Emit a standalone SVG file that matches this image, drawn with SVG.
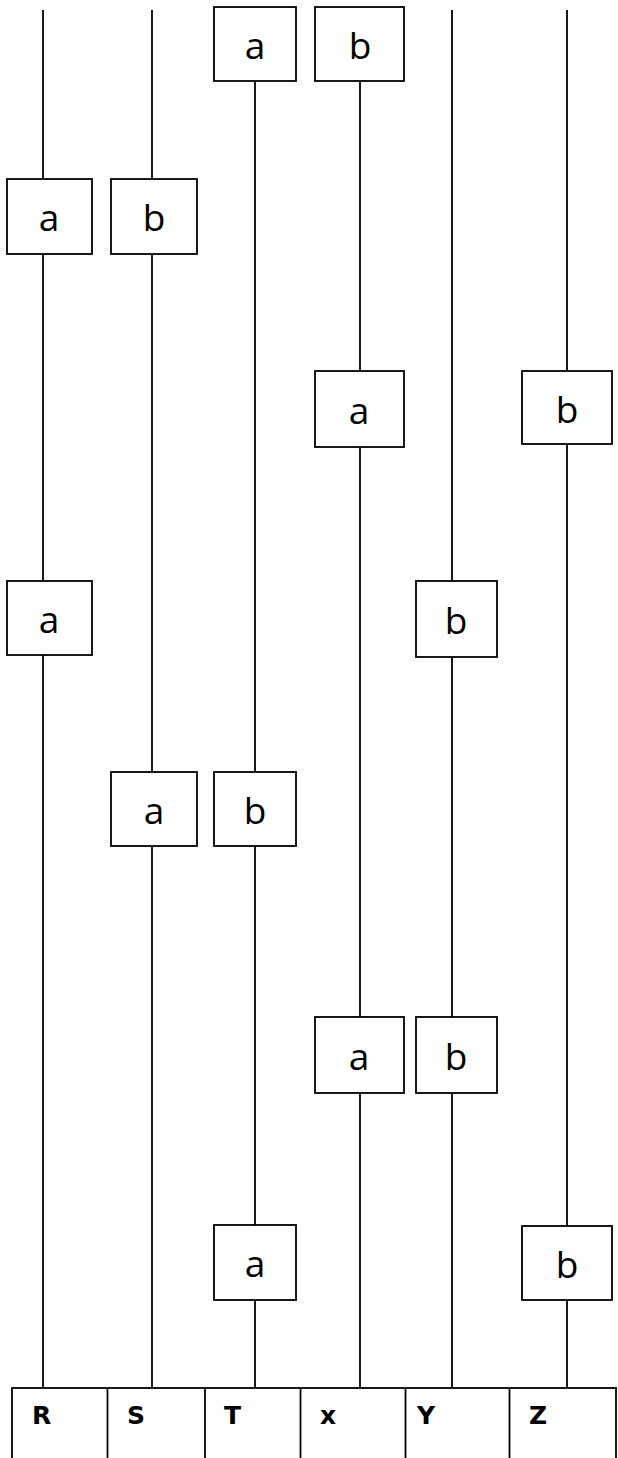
<svg xmlns="http://www.w3.org/2000/svg" width="618" height="1458" viewBox="0 0 618 1458">
<style>
.ln{stroke:#000;stroke-width:1.8;fill:none}
.bx{fill:#fff;stroke:#000;stroke-width:1.8}
.t{font-family:"Open Sans","Noto Sans",sans-serif;font-size:37px;text-anchor:middle;dominant-baseline:central;fill:#000}
.h{font-family:"DejaVu Sans",Verdana,sans-serif;font-size:25px;font-weight:bold;fill:#000}
</style>
<g id="connectors">
<line class="ln" x1="43" y1="10" x2="43" y2="1388"/>
<line class="ln" x1="152" y1="10" x2="152" y2="1388"/>
<line class="ln" x1="255" y1="81" x2="255" y2="1388"/>
<line class="ln" x1="360" y1="81" x2="360" y2="1388"/>
<line class="ln" x1="452" y1="10" x2="452" y2="1388"/>
<line class="ln" x1="567" y1="10" x2="567" y2="1388"/>
</g>
<g id="n1"><rect class="bx" x="214" y="7" width="82" height="74"/><text class="t" x="255" y="44">a</text></g>
<g id="n2"><rect class="bx" x="315" y="7" width="89" height="74"/><text class="t" x="360" y="44">b</text></g>
<g id="n3"><rect class="bx" x="7" y="179" width="85" height="75"/><text class="t" x="49" y="216">a</text></g>
<g id="n4"><rect class="bx" x="111" y="179" width="86" height="75"/><text class="t" x="154" y="216">b</text></g>
<g id="n5"><rect class="bx" x="315" y="371" width="89" height="76"/><text class="t" x="359" y="409">a</text></g>
<g id="n6"><rect class="bx" x="522" y="371" width="90" height="73"/><text class="t" x="567" y="408">b</text></g>
<g id="n7"><rect class="bx" x="7" y="581" width="85" height="74"/><text class="t" x="49" y="618">a</text></g>
<g id="n8"><rect class="bx" x="416" y="581" width="81" height="76"/><text class="t" x="456" y="619">b</text></g>
<g id="n9"><rect class="bx" x="111" y="772" width="86" height="74"/><text class="t" x="154" y="809">a</text></g>
<g id="n10"><rect class="bx" x="214" y="772" width="82" height="74"/><text class="t" x="255" y="809">b</text></g>
<g id="n11"><rect class="bx" x="315" y="1017" width="89" height="76"/><text class="t" x="359" y="1055">a</text></g>
<g id="n12"><rect class="bx" x="416" y="1017" width="81" height="76"/><text class="t" x="456" y="1055">b</text></g>
<g id="n13"><rect class="bx" x="214" y="1225" width="82" height="75"/><text class="t" x="255" y="1262">a</text></g>
<g id="n14"><rect class="bx" x="522" y="1226" width="90" height="74"/><text class="t" x="567" y="1263">b</text></g>
<g id="table">
<rect class="ln" x="12" y="1388" width="604" height="80"/>
<line class="ln" x1="107.5" y1="1388" x2="107.5" y2="1458"/>
<line class="ln" x1="205" y1="1388" x2="205" y2="1458"/>
<line class="ln" x1="300.5" y1="1388" x2="300.5" y2="1458"/>
<line class="ln" x1="405.5" y1="1388" x2="405.5" y2="1458"/>
<line class="ln" x1="509.5" y1="1388" x2="509.5" y2="1458"/>
<text class="h" x="32" y="1424">R</text>
<text class="h" x="127" y="1424">S</text>
<text class="h" x="224" y="1424">T</text>
<text class="h" x="320" y="1424">x</text>
<text class="h" x="417" y="1424">Y</text>
<text class="h" x="529" y="1424">Z</text>
</g>
</svg>
